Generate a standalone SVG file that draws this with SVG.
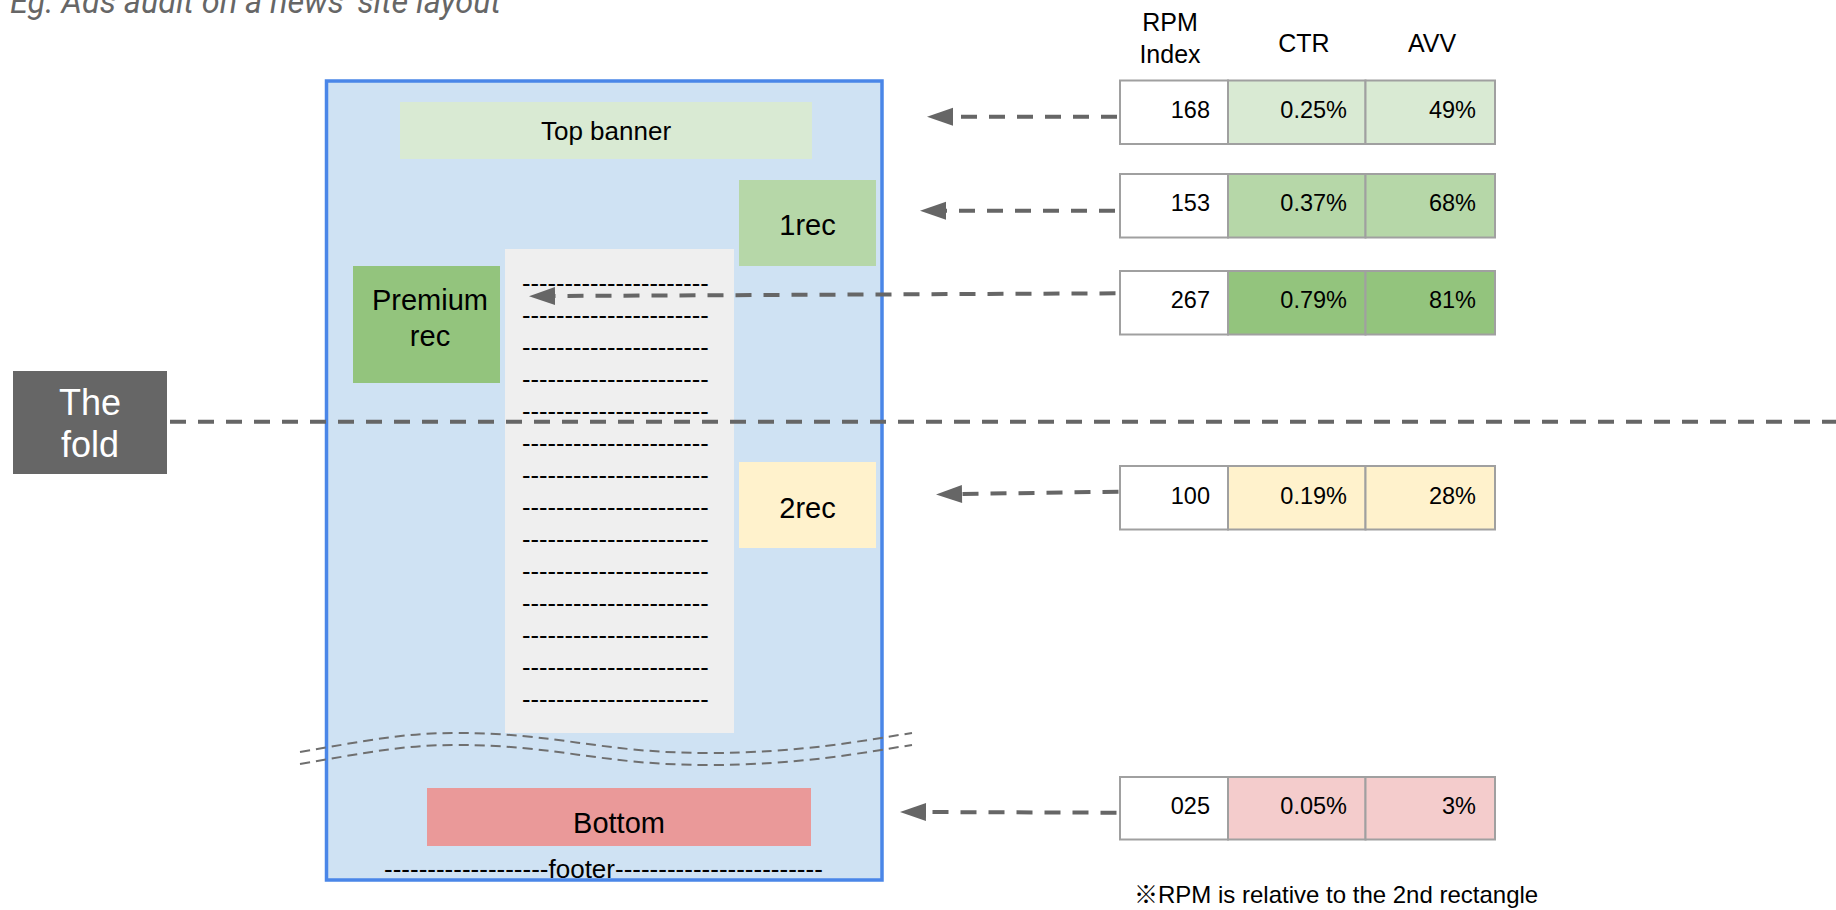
<svg xmlns="http://www.w3.org/2000/svg" width="1836" height="910" viewBox="0 0 1836 910">
  <style>
    .sans { font-family: "Liberation Sans", Arial, sans-serif; fill: #000; }
    .lbl { font-size: 29px; text-anchor: middle; }
    .dash { font-size: 25.5px; }
    .hdr { font-size: 25px; text-anchor: middle; }
    .val { font-size: 23.5px; text-anchor: end; }
    .cell { stroke: #a0a0a0; stroke-width: 2; }
    .conn { fill: none; stroke: #666666; stroke-width: 4; stroke-dasharray: 16 12; }
    .wave { fill: none; stroke: #6f6f6f; stroke-width: 2; stroke-dasharray: 10 6; }
  </style>
  <defs>
    <marker id="head" markerUnits="userSpaceOnUse" markerWidth="28" markerHeight="20" refX="0" refY="9" orient="auto" overflow="visible">
      <path d="M0,0 L26,9 L0,18 Z" fill="#666666"/>
    </marker>
  </defs>

  <!-- heading -->
  <text x="10" y="13" font-family="Roboto, 'Liberation Sans', sans-serif" font-style="italic" font-size="32.4" fill="#666666">Eg. Ads audit on a news' site layout</text>

  <!-- page frame -->
  <g id="page">
    <rect x="326.5" y="81" width="555.5" height="799" fill="#cfe2f3" stroke="#4a86e8" stroke-width="3.5"/>
  </g>

  <!-- article body -->
  <g id="article">
    <rect x="505" y="249" width="229" height="484" fill="#efefef"/>
    <g class="sans dash">
      <text x="522" y="292">----------------------</text>
      <text x="522" y="324">----------------------</text>
      <text x="522" y="356">----------------------</text>
      <text x="522" y="388">----------------------</text>
      <text x="522" y="420">----------------------</text>
      <text x="522" y="452">----------------------</text>
      <text x="522" y="484">----------------------</text>
      <text x="522" y="516">----------------------</text>
      <text x="522" y="548">----------------------</text>
      <text x="522" y="580">----------------------</text>
      <text x="522" y="612">----------------------</text>
      <text x="522" y="644">----------------------</text>
      <text x="522" y="676">----------------------</text>
      <text x="522" y="708">----------------------</text>
    </g>
  </g>

  <g id="top-banner">
    <rect x="400" y="102" width="412" height="57" fill="#d9ead3"/>
    <text class="sans" x="606" y="140" font-size="26" text-anchor="middle">Top banner</text>
  </g>

  <g id="rec1">
    <rect x="739" y="180" width="137" height="86" fill="#b6d7a8"/>
    <text class="sans lbl" x="807.5" y="235">1rec</text>
  </g>

  <g id="premium-rec">
    <rect x="353" y="266" width="147" height="117" fill="#93c47d"/>
    <text class="sans lbl" x="430" y="310">Premium</text>
    <text class="sans lbl" x="430" y="346">rec</text>
  </g>

  <g id="rec2">
    <rect x="739" y="462" width="137" height="86" fill="#fff2cc"/>
    <text class="sans lbl" x="807.5" y="518">2rec</text>
  </g>

  <!-- page break marks -->
  <g id="page-break">
    <path class="wave" d="M300,752 C360,742 400,733 455,733 C560,733 600,753 708,753 C800,753 860,741 912,733"/>
    <path class="wave" d="M300,764 C360,754 400,745 455,745 C560,745 600,765 708,765 C800,765 860,753 912,745"/>
  </g>

  <g id="bottom">
    <rect x="427" y="788" width="384" height="58" fill="#ea9999"/>
    <text class="sans lbl" x="619" y="833">Bottom</text>
  </g>

  <g id="footer">
    <text class="sans" x="384" y="878" font-size="26">-------------------footer------------------------</text>
  </g>

  <!-- fold marker -->
  <g id="fold-label">
    <rect x="13" y="371" width="154" height="103" fill="#666666"/>
    <text class="sans" x="90" y="415" font-size="36" text-anchor="middle" style="fill:#ffffff">The</text>
    <text class="sans" x="90" y="457" font-size="36" text-anchor="middle" style="fill:#ffffff">fold</text>
  </g>

  <!-- metrics table -->
  <g id="table-header" class="sans hdr">
    <text x="1170" y="31">RPM</text>
    <text x="1170" y="63">Index</text>
    <text x="1304" y="52">CTR</text>
    <text x="1432" y="52">AVV</text>
  </g>

  <g id="row-top-banner">
    <rect class="cell" x="1120" y="80.5" width="108" height="63.5" fill="#ffffff"/>
    <rect class="cell" x="1228" y="80.5" width="137.5" height="63.5" fill="#d9ead3"/>
    <rect class="cell" x="1365.5" y="80.5" width="129.5" height="63.5" fill="#d9ead3"/>
    <text class="sans val" x="1210" y="117.5">168</text>
    <text class="sans val" x="1347" y="117.5">0.25%</text>
    <text class="sans val" x="1476" y="117.5">49%</text>
  </g>

  <g id="row-rec1">
    <rect class="cell" x="1120" y="174" width="108" height="63.5" fill="#ffffff"/>
    <rect class="cell" x="1228" y="174" width="137.5" height="63.5" fill="#b6d7a8"/>
    <rect class="cell" x="1365.5" y="174" width="129.5" height="63.5" fill="#b6d7a8"/>
    <text class="sans val" x="1210" y="211">153</text>
    <text class="sans val" x="1347" y="211">0.37%</text>
    <text class="sans val" x="1476" y="211">68%</text>
  </g>

  <g id="row-premium-rec">
    <rect class="cell" x="1120" y="271" width="108" height="63.5" fill="#ffffff"/>
    <rect class="cell" x="1228" y="271" width="137.5" height="63.5" fill="#93c47d"/>
    <rect class="cell" x="1365.5" y="271" width="129.5" height="63.5" fill="#93c47d"/>
    <text class="sans val" x="1210" y="308">267</text>
    <text class="sans val" x="1347" y="308">0.79%</text>
    <text class="sans val" x="1476" y="308">81%</text>
  </g>

  <g id="row-rec2">
    <rect class="cell" x="1120" y="466" width="108" height="63.5" fill="#ffffff"/>
    <rect class="cell" x="1228" y="466" width="137.5" height="63.5" fill="#fff2cc"/>
    <rect class="cell" x="1365.5" y="466" width="129.5" height="63.5" fill="#fff2cc"/>
    <text class="sans val" x="1210" y="503.5">100</text>
    <text class="sans val" x="1347" y="503.5">0.19%</text>
    <text class="sans val" x="1476" y="503.5">28%</text>
  </g>

  <g id="row-bottom">
    <rect class="cell" x="1120" y="777" width="108" height="62.5" fill="#ffffff"/>
    <rect class="cell" x="1228" y="777" width="137.5" height="62.5" fill="#f4cccc"/>
    <rect class="cell" x="1365.5" y="777" width="129.5" height="62.5" fill="#f4cccc"/>
    <text class="sans val" x="1210" y="813.5">025</text>
    <text class="sans val" x="1347" y="813.5">0.05%</text>
    <text class="sans val" x="1476" y="813.5">3%</text>
  </g>

  <g id="note">
    <text x="1134" y="903" font-family="'Liberation Sans', 'Noto Sans CJK JP', sans-serif" font-size="24" fill="#000">※RPM is relative to the 2nd rectangle</text>
  </g>

  <!-- connectors -->
  <g id="connectors">
    <line class="conn" x1="170" y1="421.7" x2="1836" y2="421.7"/>
    <line class="conn" x1="1117" y1="116.7" x2="953" y2="116.7" marker-end="url(#head)"/>
    <line class="conn" x1="1115" y1="210.7" x2="946" y2="210.7" marker-end="url(#head)"/>
    <line class="conn" x1="1115.5" y1="293.3" x2="555" y2="296" marker-end="url(#head)"/>
    <line class="conn" x1="1118.5" y1="491.7" x2="962" y2="494" marker-end="url(#head)"/>
    <line class="conn" x1="1116.5" y1="812.7" x2="926" y2="812" marker-end="url(#head)"/>
  </g>
</svg>
